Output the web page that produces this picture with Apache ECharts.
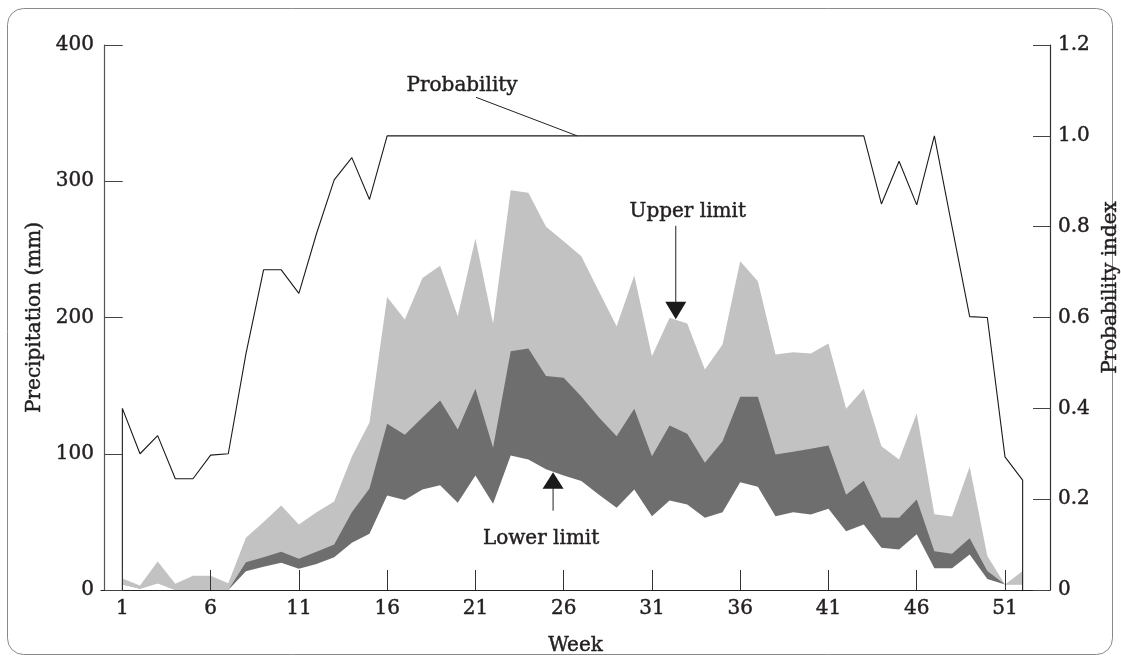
<!DOCTYPE html>
<html>
<head>
<meta charset="utf-8">
<script src="https://cdn.jsdelivr.net/npm/echarts@6/dist/echarts.min.js"></script>
<style>
  html, body { margin: 0; padding: 0; background: #fff; }
  #chart { width: 1121px; height: 662px; }
</style>
</head>
<body>
<div id="chart"></div>
<script>
// Weekly precipitation limits (mm) and the probability index, weeks 1-52
const weeks = [1, 2, 3, 4, 5, 6, 7, 8, 9, 10, 11, 12, 13, 14, 15, 16, 17, 18, 19, 20,
  21, 22, 23, 24, 25, 26, 27, 28, 29, 30, 31, 32, 33, 34, 35, 36, 37, 38, 39, 40,
  41, 42, 43, 44, 45, 46, 47, 48, 49, 50, 51, 52];

const upperLimit = [8.5, 3.3, 21, 4.5, 10.5, 10.5, 5, 38.4, 50, 62,
  48, 57, 65, 98, 123, 215, 198.5, 229, 238, 201,
  258, 195.6, 293.4, 291.5, 266.6, 256, 245, 219, 193.6, 230.8,
  171.6, 199.8, 195.6, 161.8, 180.2, 241.3, 226.6, 172.8, 174.5, 173.5,
  181, 133, 147.7, 105.5, 95.8, 129.5, 55.6, 54, 90.4, 25,
  4, 14];

const middleLine = [4, 1, 5, 0, 0, 0, 0, 20.4, 24, 28,
  23, 28, 33.4, 57, 74.5, 122, 114, 126.6, 139, 117.8,
  147.7, 104.4, 175.3, 177.2, 157, 155.7, 142, 126.6, 112.9, 133,
  98.2, 120.7, 114.6, 93.4, 109.2, 141.8, 141.8, 99.4, 101.5, 103.7,
  106, 70, 80.2, 53.2, 53, 66.4, 28.5, 26.6, 38, 14,
  4, 4];

const lowerLimit = [4, 1, 5, 0, 0, 0, 0, 13.8, 17, 20,
  15.6, 19, 24, 34.6, 41.3, 69.4, 66, 73.8, 76.9, 64,
  84, 63.3, 98.7, 95.8, 88.7, 84, 80, 70, 60.3, 73.8,
  54.2, 65.7, 62.8, 53, 57, 79, 75.7, 54.2, 57.1, 55.4,
  59.6, 43.2, 48, 31, 29.7, 41, 16, 16, 26, 8,
  4, 4];

const probability = [0.40, 0.30, 0.34, 0.245, 0.245, 0.297, 0.30, 0.52, 0.705, 0.705,
  0.653, 0.785, 0.903, 0.952, 0.86, 1.0, 1.0, 1.0, 1.0, 1.0,
  1.0, 1.0, 1.0, 1.0, 1.0, 1.0, 1.0, 1.0, 1.0, 1.0,
  1.0, 1.0, 1.0, 1.0, 1.0, 1.0, 1.0, 1.0, 1.0, 1.0,
  1.0, 1.0, 1.0, 0.85, 0.944, 0.848, 1.0, 0.80, 0.602, 0.60,
  0.293, 0.242];

const weekTicks = [1, 6, 11, 16, 21, 26, 31, 36, 41, 46, 51];

// Where the callout labels point (week along the x axis)
const upperNoteWeek = 32.35;
const lowerNoteWeek = 25.4;
const probNoteWeek = 26.76;

const FONT = '"DejaVu Serif", "Liberation Serif", serif';
const INK = '#231f20';
// a hairline outline in the ink colour gives the serif text a heavier weight
const HEAVY = { textBorderColor: INK, textBorderWidth: 0.45 };

function valueAt(values, week) {
  const i = Math.floor(week) - 1;
  const t = week - Math.floor(week);
  return values[i] + (values[i + 1] - values[i]) * t;
}

function areaSeries(name, values, color) {
  return {
    name: name,
    type: 'line',
    yAxisIndex: 0,
    data: weeks.map((w, i) => [w, values[i]]),
    symbol: 'none',
    silent: true,
    lineStyle: { width: 0, opacity: 0 },
    areaStyle: { color: color, opacity: 1 },
    z: 2
  };
}

// Probability curve is closed down to zero at both ends of the year
const probData = [[weeks[0], 0]]
  .concat(weeks.map((w, i) => [w, probability[i]]))
  .concat([[weeks[weeks.length - 1], 0]]);

const chart = echarts.init(document.getElementById('chart'), null, { renderer: 'canvas' });

chart.setOption({
  animation: false,
  backgroundColor: '#ffffff',
  grid: { left: 101, right: 71, top: 45, bottom: 72, containLabel: false, outerBoundsMode: 'none' },
  xAxis: {
    type: 'value',
    min: -0.21,
    max: 53.55,
    name: 'Week',
    nameLocation: 'middle',
    nameGap: 46,
    nameTextStyle: Object.assign({ fontFamily: FONT, fontSize: 20, color: INK }, HEAVY),
    axisLine: { show: true, onZero: false, lineStyle: { color: '#222', width: 1.2 } },
    axisTick: { show: true, inside: true, length: 20, customValues: weekTicks, lineStyle: { color: '#333', width: 1 } },
    axisLabel: Object.assign({ show: true, customValues: weekTicks, margin: 9, fontFamily: FONT, fontSize: 20, color: INK }, HEAVY),
    splitLine: { show: false },
    z: 5
  },
  yAxis: [
    {
      type: 'value',
      position: 'left',
      min: 0,
      max: 400,
      interval: 100,
      name: 'Precipitation (mm)',
      nameLocation: 'middle',
      nameGap: 48,
      nameTextStyle: Object.assign({ fontFamily: FONT, fontSize: 20, color: INK }, HEAVY),
      axisLine: { show: true, lineStyle: { color: '#555', width: 1.2 } },
      axisTick: { show: true, inside: true, length: 18, lineStyle: { color: '#444', width: 1 } },
      axisLabel: Object.assign({ show: true, margin: 7, fontFamily: FONT, fontSize: 20, color: INK }, HEAVY),
      splitLine: { show: false },
      z: 5
    },
    {
      type: 'value',
      position: 'right',
      min: 0,
      max: 1.2,
      interval: 0.2,
      name: 'Probability index',
      nameLocation: 'middle',
      nameGap: 49,
      nameTextStyle: Object.assign({ fontFamily: FONT, fontSize: 20, color: INK, padding: [0, 0, 0, 60] }, HEAVY),
      axisLine: { show: true, lineStyle: { color: '#333', width: 1.2 } },
      axisTick: { show: true, inside: true, length: 17, lineStyle: { color: '#444', width: 1 } },
      axisLabel: Object.assign({
        show: true, margin: 8, fontFamily: FONT, fontSize: 20, color: INK,
        formatter: v => (v === 0 ? '0' : v.toFixed(1))
      }, HEAVY),
      splitLine: { show: false },
      z: 5
    }
  ],
  series: [
    areaSeries('Upper limit', upperLimit, '#c2c2c2'),
    areaSeries('Middle', middleLine, '#6e6e6e'),
    areaSeries('Lower limit', lowerLimit, '#ffffff'),
    {
      name: 'Probability',
      type: 'line',
      yAxisIndex: 1,
      data: probData,
      symbol: 'none',
      silent: true,
      lineStyle: { color: '#1a1a1a', width: 1.1 },
      z: 3
    }
  ]
});

// Callouts anchored to the curves they describe
function annotate() {
  const up = chart.convertToPixel({ xAxisIndex: 0, yAxisIndex: 0 }, [upperNoteWeek, valueAt(upperLimit, upperNoteWeek)]);
  const lo = chart.convertToPixel({ xAxisIndex: 0, yAxisIndex: 0 }, [lowerNoteWeek, valueAt(lowerLimit, lowerNoteWeek)]);
  const pr = chart.convertToPixel({ xAxisIndex: 0, yAxisIndex: 1 }, [probNoteWeek, valueAt(probability, probNoteWeek)]);
  const textEl = (text, x, y) => ({
    type: 'text', z: 20, x: x, y: y,
    style: {
      text: text, font: '20px ' + FONT, fill: INK, align: 'center', verticalAlign: 'middle',
      stroke: INK, lineWidth: 0.45
    }
  });
  const lineEl = (x1, y1, x2, y2) => ({
    type: 'line', z: 20,
    shape: { x1: x1, y1: y1, x2: x2, y2: y2 },
    style: { stroke: '#222', lineWidth: 1 }
  });
  chart.setOption({
    graphic: [
      {
        type: 'rect', z: 1, silent: true,
        shape: { x: 7.5, y: 8.5, width: 1105, height: 646, r: 16 },
        style: { fill: 'none', stroke: '#8a8a8a', lineWidth: 1 }
      },
      textEl('Probability', pr[0] - 115, pr[1] - 50),
      lineEl(pr[0] - 101, pr[1] - 38.5, pr[0], pr[1]),
      textEl('Upper limit', up[0] + 12, up[1] - 108),
      lineEl(up[0], up[1] - 94, up[0], up[1] - 15),
      {
        type: 'polygon', z: 20,
        shape: { points: [[up[0] - 10.5, up[1] - 18], [up[0] + 10.5, up[1] - 18], [up[0], up[1] - 0.5]] },
        style: { fill: '#1a1a1a' }
      },
      textEl('Lower limit', lo[0] - 12, lo[1] + 67),
      lineEl(lo[0], lo[1] + 15, lo[0], lo[1] + 39),
      {
        type: 'polygon', z: 20,
        shape: { points: [[lo[0] - 10.5, lo[1] + 17], [lo[0] + 10.5, lo[1] + 17], [lo[0], lo[1] + 0.5]] },
        style: { fill: '#1a1a1a' }
      }
    ]
  });
}
annotate();
</script>
</body>
</html>
